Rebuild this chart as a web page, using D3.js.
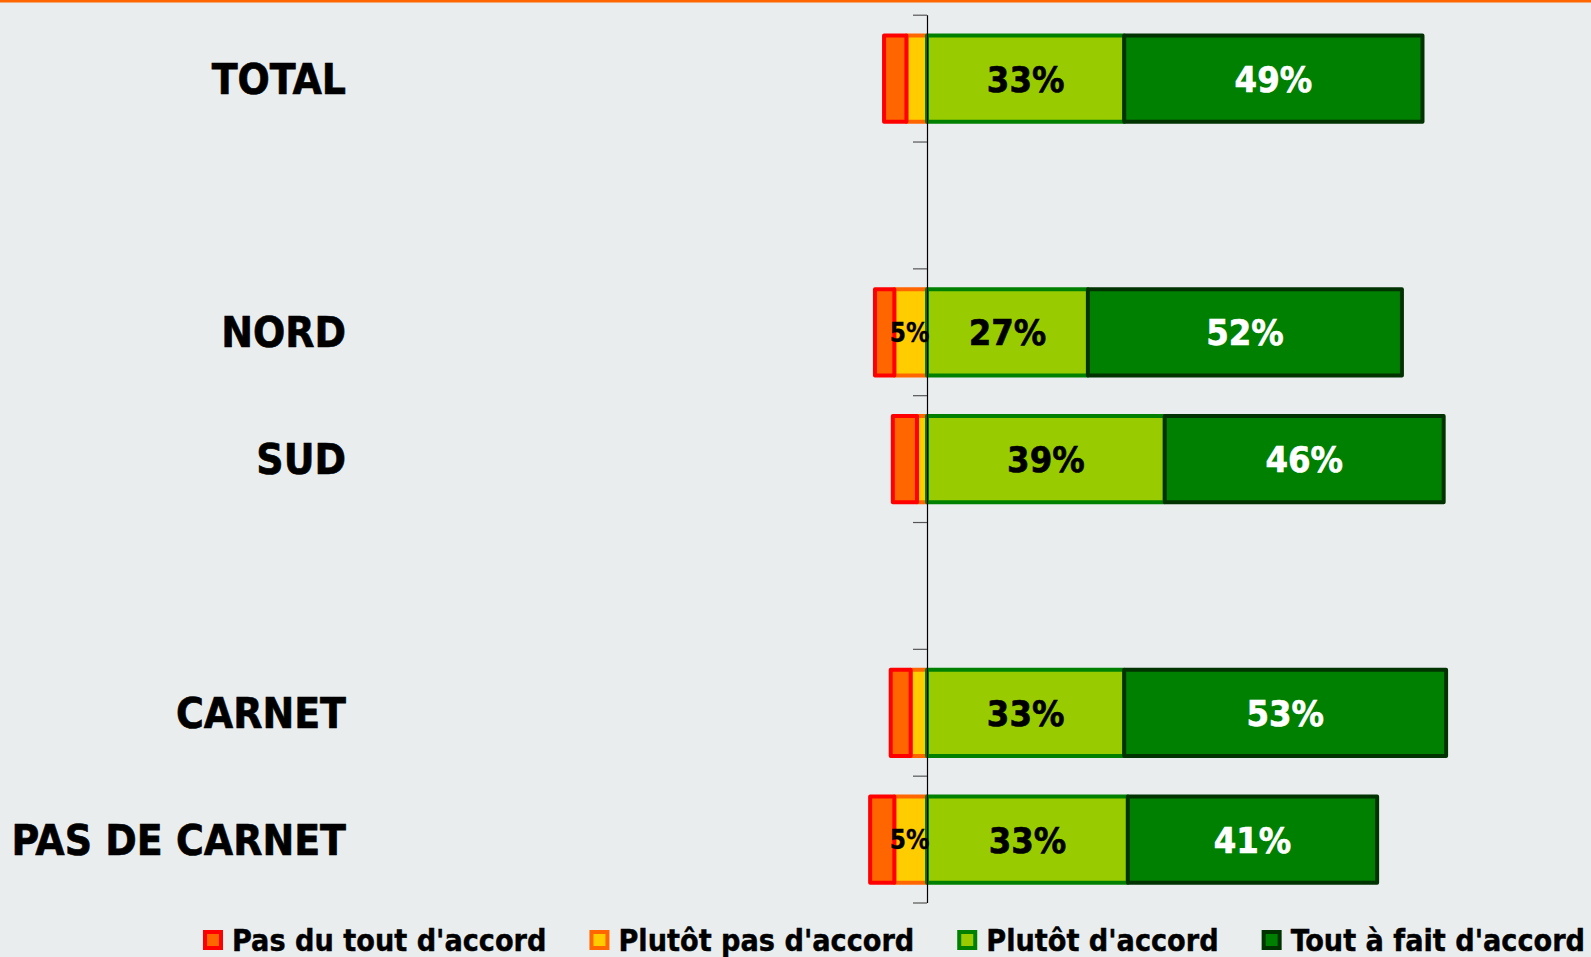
<!DOCTYPE html>
<html>
<head>
<meta charset="utf-8">
<script src="https://cdn.jsdelivr.net/npm/d3@7"></script>
<style>
    html, body { margin: 0; padding: 0; background: #E9EDEE; }
    svg { display: block; }
    text { font-family: "DejaVu Sans Condensed", "DejaVu Sans", sans-serif; font-stretch: condensed; font-weight: bold; }
</style>
</head>
<body>
<div id="chart"></div>
<script>
// categories (empty strings are the spacer rows)
var categories = ["TOTAL", "", "NORD", "SUD", "", "CARNET", "PAS DE CARNET"];

// series values in %, null on spacer rows
var pasDuTout   = [3.7, null, 3.2, 4.0,  null, 3.3, 4.0];
var plutotPas   = [3.4, null, 5.4, 1.65, null, 2.7, 5.4];
var plutot      = [32.6, null, 26.6, 39.3, null, 32.6, 33.2];
var toutAFait   = [49.3, null, 51.9, 46.1, null, 53.2, 41.2];

var seriesNames = ["Pas du tout d'accord", "Plutôt pas d'accord", "Plutôt d'accord", "Tout à fait d'accord"];

var width = 1591, height = 957;

var svg = d3.select("#chart")
    .append("svg")
    .attr("width", width)
    .attr("height", height);

svg.append("rect")
    .attr("width", width).attr("height", height)
    .attr("fill", "#E9EDEE");

// orange line at the top
svg.append("line")
    .attr("x1", 0).attr("x2", width)
    .attr("y1", 1.3).attr("y2", 1.3)
    .attr("stroke", "#FF6600").attr("stroke-width", 2.6);

var plot = { top: 15.2, bottom: 903, left: 806, right: 1532 };

var x = d3.scaleLinear()
    .domain([-20, 100])
    .range([plot.left, plot.right]);

var rows = categories.map(function (c, i) { return "r" + i; });
var y = d3.scaleBand()
    .domain(rows)
    .range([plot.top, plot.bottom])
    .paddingInner(0.32)
    .paddingOuter(0.16);

var styles = [
    { fill: "#FF6600", stroke: "#FF0000", label: "#000" },
    { fill: "#FFCC00", stroke: "#FF6600", label: "#000" },
    { fill: "#99CC00", stroke: "#008000", label: "#000" },
    { fill: "#008000", stroke: "#003300", label: "#fff" }
];

// build segments: negatives stacked to the left of 0, positives to the right
var segments = [];
categories.forEach(function (c, i) {
    if (plutot[i] == null) return;
    var yp = plutotPas[i], pt = pasDuTout[i];
    segments.push({ s: 1, row: rows[i], x0: -yp, x1: 0, v: yp });
    segments.push({ s: 0, row: rows[i], x0: -yp - pt, x1: -yp, v: pt });
    segments.push({ s: 2, row: rows[i], x0: 0, x1: plutot[i], v: plutot[i] });
    segments.push({ s: 3, row: rows[i], x0: plutot[i], x1: plutot[i] + toutAFait[i], v: toutAFait[i] });
});

var g = svg.append("g");

g.selectAll(".seg")
    .data(segments)
    .enter()
    .append("rect")
    .attr("class", "seg")
    .attr("x", function (d) { return x(d.x0); })
    .attr("y", function (d) { return y(d.row); })
    .attr("width", function (d) { return x(d.x1) - x(d.x0); })
    .attr("height", y.bandwidth())
    .attr("fill", function (d) { return styles[d.s].fill; })
    .attr("stroke", function (d) { return styles[d.s].stroke; })
    .attr("stroke-width", 4)
    .attr("stroke-linejoin", "round");

// value labels, only for the segments that are big enough
g.selectAll(".lbl")
    .data(segments.filter(function (d) { return d.v >= 5; }))
    .enter()
    .append("text")
    .attr("class", "lbl")
    .attr("x", function (d) { return (x(d.x0) + x(d.x1)) / 2 - (d.v < 10 ? 1 : 0); })
    .attr("y", function (d) { return y(d.row) + y.bandwidth() / 2; })
    .attr("dy", "0.36em")
    .attr("text-anchor", "middle")
    .attr("font-size", function (d) { return d.v < 10 ? 26 : 36; })
    .attr("fill", function (d) { return styles[d.s].label; })
    .attr("stroke", function (d) { return styles[d.s].label; })
    .attr("stroke-width", function (d) { return d.v < 10 ? 0.3 : 0.6; })
    .text(function (d) { return Math.round(d.v) + "%"; });

// axis at zero with ticks between the rows
var x0 = x(0);
svg.append("line")
    .attr("x1", x0 + 0.5).attr("x2", x0 + 0.5)
    .attr("y1", plot.top).attr("y2", plot.bottom)
    .attr("stroke", "#000").attr("stroke-width", 1.2);

var tickYs = d3.range(rows.length + 1).map(function (i) { return plot.top + i * y.step(); });
svg.selectAll(".tick")
    .data(tickYs)
    .enter()
    .append("line")
    .attr("class", "tick")
    .attr("x1", x0 - 14).attr("x2", x0)
    .attr("y1", function (d) { return d; })
    .attr("y2", function (d) { return d; })
    .attr("stroke", "#555").attr("stroke-width", 1.2);

// category labels
svg.selectAll(".cat")
    .data(categories)
    .enter()
    .append("text")
    .attr("class", "cat")
    .attr("x", 346)
    .attr("y", function (d, i) { return y(rows[i]) + y.bandwidth() / 2; })
    .attr("dy", "0.36em")
    .attr("text-anchor", "end")
    .attr("font-size", 42.2)
    .attr("fill", "#000")
    .attr("stroke", "#000")
    .attr("stroke-width", 0.6)
    .text(function (d) { return d; });

// legend
var legend = svg.append("g");
var lx = 203;
seriesNames.forEach(function (name, i) {
    legend.append("rect")
        .attr("x", lx + 2).attr("y", 932)
        .attr("width", 16).attr("height", 16)
        .attr("fill", styles[i].fill)
        .attr("stroke", styles[i].stroke)
        .attr("stroke-width", 4);
    var t = legend.append("text")
        .attr("x", lx + 29)
        .attr("y", 951)
        .attr("font-size", 30.2)
        .attr("fill", "#000")
        .attr("stroke", "#000")
        .attr("stroke-width", 0.4)
        .text(name);
    lx = lx + 29 + t.node().getComputedTextLength() + 43;
});
</script>
</body>
</html>
